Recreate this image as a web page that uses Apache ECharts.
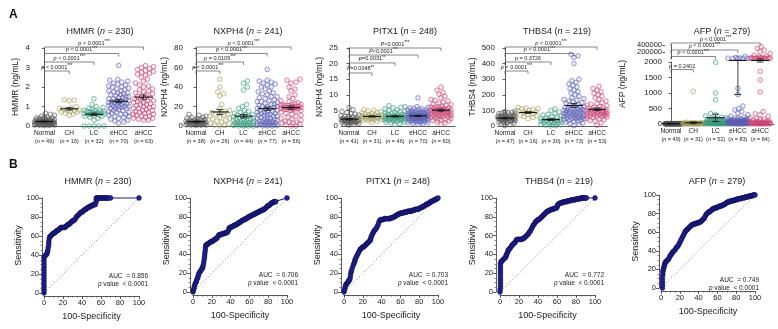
<!DOCTYPE html>
<html><head><meta charset="utf-8">
<script src="https://cdn.jsdelivr.net/npm/echarts@6/dist/echarts.min.js"></script>
<style>html,body{margin:0;padding:0;background:#fff}#c{width:778px;height:329px}</style>
</head><body><div id="c"></div>
<script>
// ---------------- DATA ----------------
const categories = ['Normal','CH','LC','eHCC','aHCC'];

const hmmrCounts = [49,16,32,70,63];
const hmmrNormal = [0.02,0.03,0.04,0.05,0.05,0.06,0.07,0.08,0.08,0.09,0.1,0.1,0.11,0.12,0.12,0.13,0.14,0.15,0.15,0.16,0.17,0.18,0.18,0.19,0.2,0.2,0.21,0.22,0.23,0.24,0.25,0.26,0.27,0.28,0.3,0.3,0.32,0.33,0.35,0.36,0.38,0.4,0.42,0.44,0.46,0.5,0.55,0.6,0.65];
const hmmrCH = [1.35,1.32,1.3,1.0,0.95,0.9,0.88,0.82,0.8,0.78,0.75,0.72,0.7,0.65,0.62,0.55];
const hmmrLC = [0,0,0,0,0,0.3,0.4,0.45,0.5,0.5,0.55,0.55,0.6,0.6,0.62,0.65,0.65,0.68,0.7,0.7,0.72,0.75,0.75,0.78,0.8,0.8,0.85,0.9,0.95,1.0,1.1,1.4];
const hmmrEHCC = [0.2,0.25,0.3,0.35,0.4,0.45,0.5,0.5,0.55,0.6,0.6,0.65,0.7,0.7,0.75,0.8,0.8,0.85,0.9,0.9,0.95,1.0,1.0,1.0,1.05,1.1,1.1,1.1,1.15,1.2,1.2,1.2,1.25,1.3,1.3,1.3,1.35,1.4,1.4,1.45,1.5,1.5,1.55,1.6,1.6,1.65,1.7,1.7,1.75,1.8,1.8,1.85,1.9,1.95,2.0,2.0,2.05,2.1,2.15,2.2,2.25,2.3,2.35,2.4,0.15,0.9,1.0,1.2,1.45,3.1];
const hmmrAHCC = [0.3,0.3,0.35,0.4,0.45,0.5,0.55,0.6,0.65,0.7,0.75,0.8,0.85,0.9,0.95,1.0,1.0,1.05,1.1,1.15,1.2,1.2,1.25,1.3,1.35,1.4,1.4,1.45,1.5,1.55,1.6,1.65,1.7,1.75,1.8,1.85,1.9,2.0,2.05,2.1,2.2,2.3,2.4,2.5,2.6,2.65,2.7,2.75,2.8,2.85,2.9,2.95,3.0,3.05,3.1,0.4,0.5,0.6,0.7,0.8,0.9,1.1,1.3];
const hmmrP = ['p < 0.0001***','p < 0.0001***','p < 0.0001***','p < 0.0001***'];

const nxph4Counts = [38,26,44,77,56];
const nxph4Normal = [0.5,0.8,1,1.2,1.5,1.5,1.8,2,2,2.2,2.5,2.5,2.8,3,3,3.2,3.5,3.5,3.8,4,4,4.2,4.5,5,5,5.5,6,6,6.5,7,7.5,8,8.5,9,10,11,12,1.0];
const nxph4CH = [48,40,35,33,31,22,18,16,15,14,13,12,12,11,10,9,8,7,6,5,4,3,2,1,0.5,0];
const nxph4LC = [46,44,40,37,22,20,18,16,15,14,13,12,12,11,10,10,9,8,8,7,7,6,6,5,5,4,4,3,3,2,2,1,1,0.5,0.5,0,0,0,0,1.5,2.5,3.5,6.5,9.5];
const nxph4EHCC = [58,47,46,45,44,42,40,38,36,35,34,33,32,30,29,28,27,26,25,24,23,22,22,21,20,20,19,18,18,17,16,16,15,15,14,14,13,13,12,12,11,11,10,10,9,9,8,8,7,7,6,6,5,5,5,4,4,4,3,3,3,2,2,2,1,1,1,0.5,0.5,0,0,0,20,25,30,40,43];
const nxph4AHCC = [48,47,45,44,40,38,36,32,30,28,26,25,24,23,22,22,21,21,20,20,20,19,19,19,18,18,18,17,17,16,16,15,14,13,12,11,10,9,8,7,6,5,4,3,2,1,0,0,20,18,21,19,22,17,3,4];
const nxph4P = ['p < 0.0001***','p = 0.0105***','p < 0.0001***','p < 0.0001***'];

const pitx1Counts = [41,31,46,70,60];
const pitx1Normal = [0.3,0.5,0.6,0.8,0.9,1.0,1.0,1.1,1.2,1.3,1.3,1.4,1.5,1.5,1.6,1.6,1.7,1.8,1.8,1.9,2.0,2.0,2.1,2.2,2.3,2.4,2.5,2.6,2.7,2.8,3.0,3.1,3.3,3.5,3.8,4.0,4.3,4.7,5.2,5.9,1.2];
const pitx1CH = [1.2,1.5,1.7,1.8,2.0,2.1,2.2,2.3,2.4,2.5,2.5,2.6,2.7,2.8,2.9,3.0,3.0,3.1,3.2,3.3,3.4,3.5,3.6,3.8,4.0,4.2,4.4,4.6,4.8,5.0,5.3];
const pitx1LC = [0.5,0.8,1.0,1.2,1.3,1.5,1.6,1.7,1.8,1.9,2.0,2.0,2.1,2.2,2.3,2.4,2.5,2.5,2.6,2.7,2.8,2.8,2.9,3.0,3.0,3.1,3.2,3.3,3.4,3.5,3.6,3.7,3.8,4.0,4.1,4.3,4.5,4.7,5.0,5.2,5.5,5.8,6.0,6.2,6.5,2.2];
const pitx1EHCC = [0.5,0.7,0.9,1.0,1.1,1.2,1.3,1.4,1.5,1.6,1.7,1.8,1.9,2.0,2.0,2.1,2.2,2.3,2.4,2.5,2.5,2.6,2.7,2.8,2.8,2.9,3.0,3.0,3.1,3.2,3.2,3.3,3.4,3.5,3.5,3.6,3.7,3.8,3.9,4.0,4.0,4.1,4.2,4.3,4.4,4.5,4.6,4.7,4.8,5.0,5.1,5.2,5.4,5.6,5.8,6.0,6.2,1.5,2.2,2.6,3.3,3.6,3.9,1.8,2.4,2.9,3.4,4.4,5.5,9.0];
const pitx1AHCC = [0.5,1.0,1.3,1.6,2.0,2.2,2.4,2.6,2.8,3.0,3.1,3.2,3.4,3.5,3.6,3.8,4.0,4.1,4.2,4.4,4.5,4.6,4.8,5.0,5.0,5.1,5.2,5.4,5.5,5.6,5.8,6.0,6.2,6.4,6.6,6.8,7.0,7.3,7.6,8.0,8.2,8.5,9.0,9.5,10.2,10.8,11.5,12.5,3.3,3.7,4.3,4.7,5.3,5.7,6.1,2.1,2.9,3.9,4.9,1.8];
const pitx1P = ['P=0.0048**','P=0.0031**','P<0.0001***','P<0.0001***'];

const thbs4Counts = [47,16,30,73,53];
const thbs4Normal = [2,8,12,15,18,20,22,25,28,30,32,33,35,36,38,40,40,42,43,45,45,46,48,50,50,52,53,55,55,57,58,60,62,63,65,67,70,72,75,78,80,82,85,88,90,92,95];
const thbs4CH = [120,115,112,110,105,100,95,90,85,80,75,70,65,60,55,48];
const thbs4LC = [0,2,5,8,10,12,15,18,20,22,25,28,30,32,35,38,40,42,45,48,50,55,60,65,70,75,80,90,100,110];
const thbs4EHCC = [2,10,15,20,25,30,35,40,42,45,48,50,52,55,58,60,62,65,68,70,72,75,78,80,82,85,88,90,92,95,98,100,102,105,108,110,112,115,118,120,125,130,135,140,145,150,155,160,165,170,175,180,190,200,210,220,230,240,250,260,270,280,290,300,400,440,450,460,60,80,100,45,30];
const thbs4AHCC = [5,20,30,35,40,45,50,55,58,60,62,65,68,70,72,75,78,80,82,85,88,90,92,95,98,100,102,105,108,110,115,120,125,130,135,140,145,150,160,170,180,190,200,210,220,230,240,255,75,85,95,65,105];
const thbs4P = ['p < 0.0001***','p = 0.3726','p < 0.0001***','p < 0.0001***'];

const afpCounts = [49,31,52,83,64];
const afpNormal = [1,2,2,3,3,3,4,4,4,5,5,5,6,6,6,7,7,7,8,8,8,9,9,9,10,10,10,11,11,12,12,13,13,14,14,15,15,16,17,18,19,20,2,3,4,5,6,7,8];
const afpCH = [1050,60,50,45,40,35,30,28,25,22,20,18,16,15,14,12,11,10,9,8,7,6,5,5,4,4,3,3,2,2,1];
const afpLC = [1990,1000,780,340,300,260,220,200,180,160,150,140,130,120,110,100,95,90,85,80,75,70,65,60,55,50,45,40,38,35,32,30,28,25,22,20,18,16,14,12,10,9,8,7,6,5,4,3,2,1,150,90];
const afpEHCC = [1150,950,580,500,450,400,350,300,250,220,200,190,180,170,160,150,140,130,120,115,110,105,100,95,90,85,80,75,70,65,60,58,55,52,50,48,45,42,40,38,35,32,30,28,25,22,20,18,16,14,12,10,9,8,7,6,5,4,3,2,1,60,70,80,90,100,45,35,25,15,5,130,110,95,85,2500,3000,4000,6000,9000,15000,30000,60000];
const afpAHCC = [1700,1420,1030,400,330,300,250,200,180,160,140,120,100,90,80,70,60,55,50,45,40,35,30,25,20,18,15,12,10,8,6,5,4,3,2,1,70,50,30,20,10,5,2500,3000,3500,4000,5000,6000,8000,10000,15000,20000,30000,50000,80000,100000,150000,200000,250000,300000,350000,2200,2800,12000];
const afpMean = [9,40,200,2050,2050];
const afpErrLow = [7,12,80,950,2000];
const afpErrHigh = [11,70,320,2050,2100];
const afpUpperTicks = [200000,400000];
const afpP = ['p = 0.2402','p < 0.0001***','p < 0.0001***','p < 0.0001***'];

const rocHMMR = [[0,0],[0,3],[0,6],[0,9],[0,12],[0,15],[0,18],[0,21],[0,24],[0,27],[0,30],[0,33],[0,36],[0,38],[1,39],[2,40],[3,41],[3.5,43],[4,45],[4.5,48],[5,51],[5,54],[5.5,57],[6,59],[7,60],[8,61],[9,62],[10,63],[11,63],[12,64],[13,65],[14,66],[15,66],[16,67],[17,68],[18,69],[19,69],[20,69],[21,69],[22,69],[23,70],[24,71],[25,72],[26,72],[27,73],[28,74],[29,75],[30,76],[31,76],[32,77],[33,78],[34,80],[35,81],[36,82],[37,83],[38,84],[39,85],[40,85],[41,86],[42,87],[43,88],[44,88],[45,89],[46,90],[47,90],[48,91],[49,91],[50,92],[51,92],[52,93],[53,93],[54,93],[55,96],[55,98],[55,100],[56,100],[57,100],[58,100],[59,100],[60,100],[61,100],[62,100],[63,100],[64,100],[65,100],[66,100],[67,100],[68,100],[70,100],[100,100]];
const rocNXPH4 = [[0,0],[0.5,2],[1,4],[1.5,6],[2,8],[3,10],[3.5,11],[4,13],[5,15],[5.5,17],[6,19],[7,21],[8,22],[9,24],[10,25],[10.5,27],[11,29],[11.5,32],[12,35],[12.3,38],[12.6,41],[13,44],[13.3,47],[13.6,49],[14,50],[15,51],[16,51],[17,52],[18,53],[19,53],[20,54],[21,54],[22,55],[23,56],[24,56],[25,57],[26,58],[27,60],[28,61],[29,61],[30,61],[31,62],[32,62],[33,62],[34,63],[35,63],[36,63],[37,64],[38,66],[38.5,68],[39,68],[40,69],[41,69],[42,70],[43,70],[44,71],[45,71],[46,72],[47,72],[48,73],[49,74],[50,74],[51,75],[52,76],[53,76],[54,77],[55,77],[56,78],[57,78],[58,79],[59,80],[60,80],[61,81],[62,81],[63,82],[64,82],[65,83],[66,83],[67,84],[68,84],[69,85],[70,85],[71,86],[72,86],[73,87],[74,87],[75,88],[76,88],[77,89],[78,90],[79,91],[80,92],[81,92],[82,93],[83,94],[84,95],[85,95],[86,96],[87,96],[88,96],[100,100]];
const rocPITX1 = [[0,0],[0.5,2],[1,4],[1.5,6],[2,8],[3,9],[4,10],[4.5,11],[5,12],[6,13],[6.5,15],[7,18],[7.5,21],[8,23],[9,26],[10,29],[11,31],[11.5,33],[12,35],[13,37],[14,39],[15,41],[16,43],[17,45],[18,46],[19,47],[20,48],[21,48],[22,49],[23,50],[24,51],[25,52],[26,53],[27,54],[28,55],[28.5,57],[29,59],[30,61],[31,63],[32,65],[33,66],[34,67],[35,69],[36,71],[37,74],[38,76],[39,77],[40,77],[41,77],[42,77],[43,78],[44,78],[45,78],[46,78],[47,78],[48,78],[49,78],[50,79],[51,79],[52,79],[53,80],[54,80],[55,81],[56,82],[57,82],[58,83],[59,83],[60,84],[61,84],[62,84],[63,84],[64,85],[65,85],[66,85],[67,85],[68,86],[69,86],[70,86],[71,86],[72,86],[73,87],[74,87],[75,87],[76,88],[77,88],[78,88],[79,88],[80,89],[81,89],[82,90],[83,90],[84,91],[85,91],[86,92],[87,93],[88,93],[89,94],[90,94],[91,95],[92,96],[93,96],[94,97],[95,97],[96,98],[97,98],[98,99],[99,99],[100,100]];
const rocTHBS4 = [[0,0],[0.3,3],[0.5,6],[0.5,9],[0.5,12],[0.5,15],[0.5,18],[0.5,21],[0.5,24],[0.5,27],[0.5,30],[1,32],[2,33],[3,34],[4,35],[5,36],[6,37],[6.5,39],[7,40],[8,42],[8.5,44],[9,45],[10,46],[11,47],[12,49],[13,50],[14,51],[15,52],[16,53],[17,55],[18,56],[19,56],[20,56],[21,56],[22,56],[23,56],[24,57],[25,57],[26,58],[27,59],[28,60],[29,61],[30,62],[31,64],[32,65],[33,67],[34,69],[35,71],[36,72],[37,74],[38,75],[39,76],[40,77],[41,77],[42,78],[43,79],[44,80],[45,81],[46,82],[47,83],[48,84],[49,85],[50,86],[51,86],[52,87],[53,87],[54,88],[55,88],[56,88],[57,89],[58,89],[59,89],[60,90],[60.5,92],[61,93],[62,94],[63,94],[64,95],[65,95],[66,95],[67,96],[68,96],[69,96],[70,96],[71,97],[72,97],[73,97],[74,97],[75,98],[76,98],[77,98],[78,98],[79,98],[80,99],[81,99],[82,99],[83,99],[84,99],[85,100],[86,100],[87,100],[88,100],[89,100],[90,100],[91,100],[100,100]];
const rocAFP = [[1.5,0],[1.5,3],[1.5,6],[1.5,9],[1.5,12],[2,15],[2,18],[2.5,20],[3,22],[3.5,24],[4,26],[4.5,27],[5,28],[6,29],[7,30],[8,31],[9,33],[10,35],[11,36],[12,38],[13,39],[14,40],[15,41],[16,43],[17,44],[18,45],[19,47],[20,49],[21,51],[22,53],[23,55],[24,57],[25,59],[26,61],[27,62],[28,63],[29,64],[30,65],[31,66],[32,67],[33,68],[34,68],[35,69],[36,69],[37,69],[38,70],[39,70],[40,70],[41,71],[42,71],[43,72],[44,73],[45,74],[46,75],[47,77],[48,79],[49,80],[50,81],[51,82],[52,82],[53,83],[54,84],[55,85],[56,85],[57,86],[58,86],[59,86],[60,87],[61,87],[62,88],[63,88],[64,88],[65,89],[66,89],[67,90],[68,90],[69,91],[70,92],[71,92],[72,93],[73,93],[74,93],[75,94],[76,94],[77,94],[78,94],[79,95],[80,95],[81,95],[82,96],[83,96],[84,96],[85,96],[86,97],[87,97],[88,97],[89,97],[90,98],[91,98],[92,98],[93,98],[94,99],[95,99],[96,99],[97,99],[98,100],[99,100],[100,100]];
const aucValues = ['0.856','0.706','0.703','0.772','0.749'];
const aucP = ['< 0.0001','< 0.0001','< 0.0001','< 0.0001','< 0.0001'];

// ---------------- LAYOUT / BUILD ----------------
const FF = '"Liberation Sans", Arial, sans-serif';
const TXT = '#222';
const colors = ['#4d4d4d','#a29c5a','#379a7c','#5a5eb2','#c8416f'];
const fills = ['rgba(77,77,77,0.08)','rgba(162,156,90,0.1)','rgba(55,154,124,0.12)','rgba(90,94,178,0.14)','rgba(200,65,111,0.12)'];

const grid=[], xAxis=[], yAxis=[], series=[], title=[], extraY=[];
function addGrid(g, xa, ya){ grid.push(g); const gi=grid.length-1; xa.gridIndex=gi; ya.gridIndex=gi; xAxis.push(xa); yAxis.push(ya); return gi; }

function swarm(vals, toPx, D, maxOff, step){
  const idx = vals.map((v,i)=>i).sort((a,b)=>vals[a]-vals[b]);
  const cands=[0]; for(let k=1;k*step<=maxOff;k++){cands.push(k*step,-k*step);}
  const placed=[], off=new Array(vals.length);
  for(const i of idx){
    const y=toPx(vals[i]); let best=0, bestS=-1;
    for(const c of cands){
      let mn=Infinity;
      for(const p of placed){ const dy=p.y-y; if(Math.abs(dy)<D){ const d=Math.hypot(p.x-c,dy); if(d<mn) mn=d; } }
      if(mn>=D){best=c;bestS=Infinity;break;}
      if(mn>bestS){bestS=mn;best=c;}
    }
    placed.push({x:best,y}); off[i]=best;
  }
  return off;
}
function fmtP(s){
  const m = s.match(/^([pP])(.*?)(\**)$/);
  return '{i|'+m[1]+'}{t|'+m[2]+'}'+(m[3]?'{s|'+m[3]+'}':'');
}
const pRich = { i:{fontStyle:'italic',fontSize:5.5,fontFamily:FF,color:TXT}, t:{fontSize:5.5,fontFamily:FF,color:TXT}, s:{fontSize:4.5,fontFamily:FF,color:TXT,verticalAlign:'top',padding:[0,0,2,0]} };

function catAxis(p){
  return { type:'value', min:(p.xL-p.c0)/p.s, max:(p.xR-p.c0)/p.s,
    axisLine:{show:true,onZero:false,lineStyle:{color:'#333',width:0.8}}, axisTick:{show:false}, splitLine:{show:false},
    axisLabel:{ show:true, customValues:[0,1,2,3,4], margin:3, lineHeight:8,
      formatter:(v)=>{const i=Math.round(v); return '{c|'+categories[i]+'}\n{q|(}{n|n}{q| = '+p.counts[i]+')}';},
      rich:{ c:{fontSize:6.5,fontFamily:FF,color:TXT,lineHeight:8}, q:{fontSize:5.5,fontFamily:FF,color:TXT,lineHeight:8}, n:{fontSize:5.5,fontStyle:'italic',fontFamily:FF,color:TXT,lineHeight:8} } } };
}
function valAxis(min,max,interval,name,nameGap,extra){
  return Object.assign({ type:'value', min, max, interval,
    axisLine:{show:true,lineStyle:{color:'#333',width:0.8}}, axisTick:{show:true,length:2.5,lineStyle:{color:'#333',width:0.8}},
    splitLine:{show:false}, axisLabel:{fontSize:8,fontFamily:FF,color:TXT,margin:3,formatter:v=>String(v)},
    name, nameLocation:'middle', nameGap, nameTextStyle:{fontSize:8.5,fontFamily:FF,color:TXT} }, extra||{});
}
function meanSeries(gi, rows){
  series.push({ type:'custom', xAxisIndex:gi, yAxisIndex:gi, clip:false, silent:true, z:5, data:rows,
    renderItem:(params, api)=>{
      const x=api.value(0), m=api.value(1), lo=api.value(2), hi=api.value(3);
      const pm=api.coord([x,m]), pl=api.coord([x,lo]), ph=api.coord([x,hi]);
      const st={stroke:'#111',lineWidth:1.1};
      return {type:'group', children:[
        {type:'line',shape:{x1:pm[0]-9,y1:pm[1],x2:pm[0]+9,y2:pm[1]},style:st},
        {type:'line',shape:{x1:pl[0],y1:pl[1],x2:ph[0],y2:ph[1]},style:{stroke:'#111',lineWidth:0.8}},
        {type:'line',shape:{x1:pl[0]-3.5,y1:pl[1],x2:pl[0]+3.5,y2:pl[1]},style:{stroke:'#111',lineWidth:0.8}},
        {type:'line',shape:{x1:ph[0]-3.5,y1:ph[1],x2:ph[0]+3.5,y2:ph[1]},style:{stroke:'#111',lineWidth:0.8}}
      ]};
    }});
}
function bracketSeries(gi, levels, texts){
  const rows = levels.map((lv,k)=>[0,k+1,lv,k]);
  series.push({ type:'custom', xAxisIndex:gi, yAxisIndex:gi, clip:false, silent:true, data:rows,
    renderItem:(params, api)=>{
      const a=api.coord([api.value(0),api.value(2)]), b=api.coord([api.value(1),api.value(2)]);
      const k=api.value(3);
      return {type:'group', children:[
        {type:'polyline',shape:{points:[[a[0],a[1]+3],[a[0],a[1]],[b[0],b[1]],[b[0],b[1]+3]]},style:{stroke:'#555',lineWidth:0.7,fill:null}},
        {type:'text',style:{text:fmtP(texts[k]),rich:pRich,x:(a[0]+b[0])/2,y:a[1]-0.5,align:'center',verticalAlign:'bottom',fill:TXT,fontSize:5.5,fontFamily:FF}}
      ]};
    }});
}
function scatterSeries(gi, k, pts){
  series.push({ type:'scatter', xAxisIndex:gi, yAxisIndex:gi, data:pts, symbol:'circle', symbolSize:4.6, silent:true,
    itemStyle:{color:fills[k], borderColor:colors[k], borderWidth:0.75} });
}
function stats(vals){ const n=vals.length; const m=vals.reduce((a,b)=>a+b,0)/n; const sd=Math.sqrt(vals.reduce((a,b)=>a+(b-m)*(b-m),0)/(n-1)); const se=sd/Math.sqrt(n); return [m,m-se,m+se]; }
function pTitle(txt, n, cx, top){
  title.push({ text:'{a|'+txt+' (}{i|n}{a| = '+n+')}', left:cx, top, textAlign:'center',
    textStyle:{ fontWeight:'normal', rich:{ a:{fontSize:9,fontWeight:'normal',fontFamily:FF,color:TXT}, i:{fontSize:9,fontWeight:'normal',fontStyle:'italic',fontFamily:FF,color:TXT} } } });
}

const topPanels = [
  {name:'HMMR', n:230, yName:'HMMR (ng/mL)', nameGap:13, groups:[hmmrNormal,hmmrCH,hmmrLC,hmmrEHCC,hmmrAHCC], counts:hmmrCounts, ymax:4, yint:1, xL:33, c0:44.5, s:24.75, xR:155, ptext:hmmrP, cx:95, levels:[0.705,0.8205,0.9295,1.0128]},
  {name:'NXPH4', n:241, yName:'NXPH4 (ng/mL)', nameGap:17, groups:[nxph4Normal,nxph4CH,nxph4LC,nxph4EHCC,nxph4AHCC], counts:nxph4Counts, ymax:80, yint:20, xL:186, c0:196, s:23.75, xR:303, ptext:nxph4P, cx:243, levels:[0.705,0.8205,0.9295,1.0128]},
  {name:'PITX1', n:248, yName:'NXPH4 (ng/mL)', nameGap:17, groups:[pitx1Normal,pitx1CH,pitx1LC,pitx1EHCC,pitx1AHCC], counts:pitx1Counts, ymax:25, yint:5, xL:341, c0:349, s:23, xR:455, ptext:pitx1P, cx:400, levels:[0.68,0.808,0.91,1.0]},
  {name:'THBS4', n:219, yName:'THBS4 (ng/mL)', nameGap:21, groups:[thbs4Normal,thbs4CH,thbs4LC,thbs4EHCC,thbs4AHCC], counts:thbs4Counts, ymax:500, yint:100, xL:498, c0:505, s:23, xR:607, ptext:thbs4P, cx:552, levels:[0.705,0.8205,0.9295,1.0128]}
];
const TOP=48, BOT=126;
topPanels.forEach(p=>{
  const gi = addGrid({left:p.xL, top:TOP, width:p.xR-p.xL, height:BOT-TOP}, catAxis(p), valAxis(0,p.ymax,p.yint,p.yName,p.nameGap));
  const pxPer=(BOT-TOP)/p.ymax;
  p.groups.forEach((vals,k)=>{
    const off=swarm(vals, v=>v*pxPer, 4.2, 10, 1);
    scatterSeries(gi, k, vals.map((v,i)=>[k+off[i]/p.s, v]));
  });
  meanSeries(gi, p.groups.map((vals,k)=>[k].concat(stats(vals))));
  bracketSeries(gi, p.levels.map(f=>f*p.ymax), p.ptext);
  pTitle(p.name, p.n, p.cx, 22);
});

// AFP with broken axis (two grids)
(function(){
  const p={counts:afpCounts, xL:665, c0:671, s:22.3, xR:774};
  const LT=62, LB=124, UT=45, UB=58.5;
  const gL = addGrid({left:p.xL, top:LT, width:p.xR-p.xL, height:LB-LT}, catAxis(p), valAxis(0,2000,500,'AFP (ng/mL)',38,{nameTextStyle:{fontSize:8.5,fontFamily:FF,color:TXT,padding:[0,0,0,18]}}));
  const xu = catAxis(p); xu.show=false;
  const gU = addGrid({left:p.xL, top:UT, width:p.xR-p.xL, height:UB-UT}, xu,
    valAxis(0,400000,200000,'',0,{axisTick:{show:false}, axisLabel:{show:false}}));
  // one label axis per upper tick so that neither is hidden by overlap checks
  afpUpperTicks.forEach(t=>{
    extraY.push({ type:'value', gridIndex:gU, min:0, max:400000, position:'left',
      axisLine:{show:false}, splitLine:{show:false},
      axisTick:{show:true, customValues:[t], length:2.5, lineStyle:{color:'#333',width:0.8}},
      axisLabel:{show:true, customValues:[t], fontSize:7.5, fontFamily:FF, color:TXT, margin:3, formatter:v=>String(v)} });
  });
  const toPx = v => v<=2000 ? v*(LB-LT)/2000 : (LB-UB) + v*(UB-UT)/400000;
  [afpNormal,afpCH,afpLC,afpEHCC,afpAHCC].forEach((vals,k)=>{
    const off=swarm(vals,toPx,4.2,10,1);
    const lo=[], up=[];
    vals.forEach((v,i)=>{ (v<=2000?lo:up).push([k+off[i]/p.s, v]); });
    scatterSeries(gL,k,lo); if(up.length) scatterSeries(gU,k,up);
  });
  meanSeries(gL, afpMean.map((m,k)=>[k,m,afpErrLow[k],afpErrHigh[k]]));
  bracketSeries(gL, [0.879,1.089,1.194,1.306].map(f=>f*2000), afpP);
  pTitle('AFP', 279, 717, 22);
})();

// ROC panels
const rocPanels = [
  {name:'HMMR', n:230, data:rocHMMR, x0:44, x100:139, yT:198, yB:293, ax:42, cx:93, tTop:172, ar:143, aTop:267},
  {name:'NXPH4', n:241, data:rocNXPH4, x0:193, x100:287, yT:198, yB:292, ax:190, cx:243, tTop:172, ar:293, aTop:266},
  {name:'PITX1', n:248, data:rocPITX1, x0:344, x100:438, yT:198, yB:292, ax:341, cx:393, tTop:172, ar:443, aTop:266},
  {name:'THBS4', n:219, data:rocTHBS4, x0:500, x100:595, yT:198, yB:292, ax:496, cx:554, tTop:172, ar:599, aTop:266},
  {name:'AFP', n:279, data:rocAFP, x0:661, x100:755, yT:195, yB:288, ax:659, cx:712, tTop:172, ar:754, aTop:271}
];
rocPanels.forEach((r,k)=>{
  const common = {type:'value',min:0,max:100,interval:20,splitLine:{show:false},
    axisLine:{show:true,onZero:false,lineStyle:{color:'#333',width:0.8}},
    axisTick:{show:true,length:3,lineStyle:{color:'#333',width:0.8}},
    minorTick:{show:true,splitNumber:4,length:1.5,lineStyle:{color:'#333',width:0.6}},
    axisLabel:{fontSize:7.5,fontFamily:FF,color:TXT,margin:3},
    nameLocation:'middle', nameTextStyle:{fontSize:9,fontFamily:FF,color:TXT}};
  const gi = addGrid({left:r.x0, top:r.yT, width:r.x100-r.x0, height:r.yB-r.yT},
    Object.assign({}, common, {offset:3, name:'100-Specificity', nameGap:16}),
    Object.assign({}, common, {offset:r.x0-r.ax, name:'Sensitivity', nameGap:19}));
  series.push({type:'line', xAxisIndex:gi, yAxisIndex:gi, data:[[0,0],[100,100]], symbol:'none', silent:true,
    lineStyle:{type:[1.5,2],color:'#888',width:0.8}});
  series.push({type:'line', xAxisIndex:gi, yAxisIndex:gi, data:r.data, symbol:'circle', symbolSize:4.8, silent:true, clip:false,
    lineStyle:{color:'#1d1d86',width:1.2}, itemStyle:{color:'#22228f',borderColor:'#0c0c55',borderWidth:0.6}});
  pTitle(r.name, r.n, r.cx, r.tTop);
  title.push({ text:'{a|AUC  = '+aucValues[k]+'}\n{i|p}{a| value  '+aucP[k]+'}', left:r.ar, top:r.aTop, textAlign:'right',
    textStyle:{ fontWeight:'normal', rich:{ a:{fontSize:6.5,fontWeight:'normal',fontFamily:FF,color:TXT,lineHeight:8,align:'right'}, i:{fontSize:6.5,fontWeight:'normal',fontStyle:'italic',fontFamily:FF,color:TXT,lineHeight:8} } } });
});

title.push({text:'A', left:4, top:4, textStyle:{fontSize:12,fontWeight:'bold',fontFamily:FF,color:'#111'}});
title.push({text:'B', left:4, top:154, textStyle:{fontSize:12,fontWeight:'bold',fontFamily:FF,color:'#111'}});

const chart = echarts.init(document.getElementById('c'), null, {renderer:'canvas'});
chart.setOption({ animation:false, backgroundColor:'#fff', title, grid, xAxis, yAxis: yAxis.concat(extraY), series });
</script></body></html>
